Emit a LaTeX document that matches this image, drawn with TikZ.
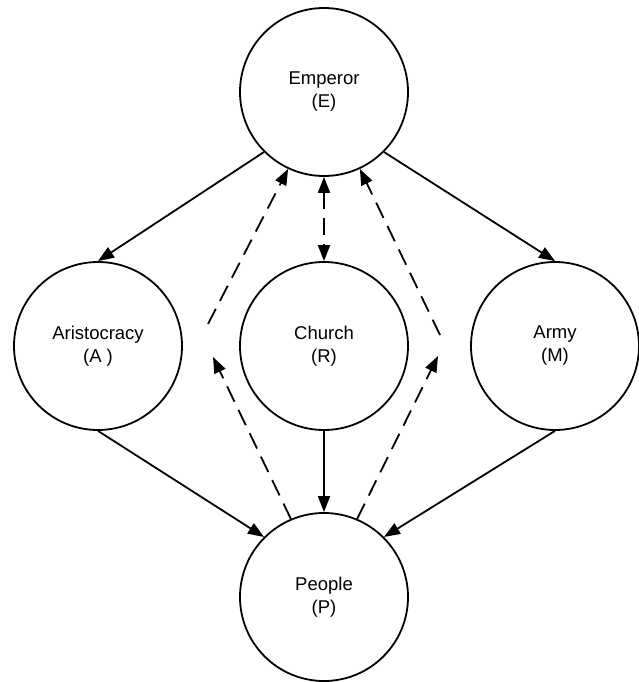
\documentclass[tikz,border=0pt]{standalone}
\usepackage{fontspec}
\setmainfont{Liberation Sans}
\usetikzlibrary{arrows.meta,automata,positioning}

\begin{document}
\begin{tikzpicture}[
            x = 1pt, y = -1pt, % pixel grid, y down
            > = {Triangle[length=16pt, width=12pt]}, % arrow head style
            line width = 1.8pt, % line style
            auto
        ]

        \tikzstyle{every state}=[
            draw = black,
            line width = 1.8pt,
            fill = white,
            minimum size = 168pt,
            inner sep = 0pt,
            align = center,
            font = \fontsize{18.5}{23}\selectfont
        ]
        \tikzstyle{link}=[dash pattern = on 17pt off 9pt]

        \useasboundingbox (0,0) rectangle (639,682);

        \node[state] (e) [at={(324,92)}] {Emperor\\(E)};
        \node[state] (a) [at={(98,346)}] {Aristocracy\\(A )};
        \node[state] (r) [at={(324,346)}] {Church\\(R)};
        \node[state] (m) [at={(555,346)}] {Army\\(M)};
        \node[state] (p) [at={(324,597)}] {People\\(P)};
        % Gaps in the dashed lines
        \coordinate (lb) at (213,357);
        \coordinate (lt) at (208,324);
        \coordinate (rb) at (438,356);
        \coordinate (rt) at (440,335);

        \path[->] (e.south west) edge node {} (a.north);
        \path[->] (e.south east) edge node {} (m.north);
        \path[->] (a.south) edge node {} (p.north west);
        \path[->] (r) edge node {} (p);
        \path[->] (m.south) edge node {} (p.north east);
        \path[<->] (e) edge[link] node {} (r);
        \path[->] (p.113) edge[link] node {} (lb);
        \path[->] (lt) edge[link] node {} (e.245);
        \path[->] (p.67) edge[link] node {} (rb);
        \path[->] (rt) edge[link] node {} (e.295);

\end{tikzpicture}
\end{document}
